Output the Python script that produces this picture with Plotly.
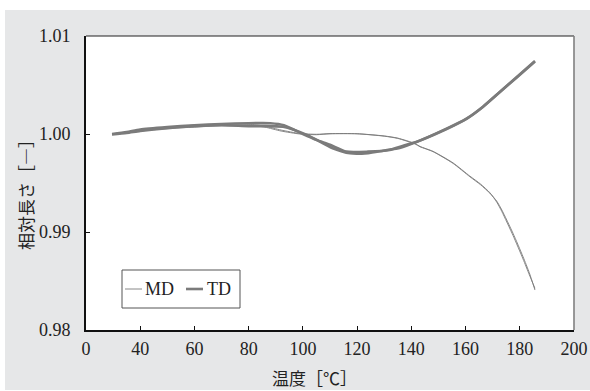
import plotly.graph_objects as go

# ---- data (temperature in °C, relative length) ----
series_names = ["MD", "TD"]

md_run1_T = [29.6, 35, 40, 50, 60, 70, 80, 86, 92, 98.9, 105, 110, 120, 130, 135, 141.4, 143.2, 148, 155.4, 161.6, 165.5, 169, 171.5, 173.4, 177.5, 181.2, 183.5, 185.6]
md_run1_v = [1.0000, 1.0001, 1.0003, 1.00055, 1.0007, 1.00085, 1.0009, 1.0007, 1.0003, 1.0000, 0.99993, 1.00002, 1.00002, 0.99978, 0.99955, 0.99898, 0.9987, 0.9982, 0.9970, 0.99564, 0.99483, 0.99395, 0.99315, 0.99224, 0.98987, 0.98748, 0.98585, 0.98408]

md_run2_T = [29.6, 35, 40, 50, 60, 70, 80, 86, 92, 98.9, 105, 110, 120, 130, 135, 141.4, 143.2, 148, 155.4, 161.6, 165.5, 169, 171.5, 173.4, 177.5, 181.2, 183.5, 185.6]
md_run2_v = [1.0000, 1.0002, 1.0004, 1.0007, 1.0009, 1.0010, 1.0010, 1.0008, 1.0004, 1.00005, 0.99997, 1.00004, 1.00003, 0.9998, 0.99958, 0.99902, 0.99873, 0.99823, 0.99705, 0.9957, 0.9949, 0.9940, 0.99305, 0.99208, 0.98965, 0.98725, 0.98565, 0.98425]

td_run1_T = [29.6, 35, 40, 50, 60, 70, 80, 88, 93, 100, 105, 110, 116, 124, 132, 137, 142, 150.6, 160.5, 166.4, 172.7, 179, 185.6]
td_run1_v = [1.0000, 1.0002, 1.00045, 1.0007, 1.0009, 1.00102, 1.0011, 1.0011, 1.0009, 1.0000, 0.9994, 0.9989, 0.9982, 0.9982, 0.99837, 0.9988, 0.9992, 1.00024, 1.0016, 1.00279, 1.00432, 1.00585, 1.00745]

td_run2_T = [29.6, 35, 40, 50, 60, 70, 80, 92.7, 101.5, 111, 117.4, 124, 129.6, 136, 142, 150.6, 160.5, 166.4, 172.7, 179, 185.6]
td_run2_v = [0.99995, 1.0001, 1.0003, 1.0006, 1.0008, 1.0009, 1.0008, 1.00074, 0.9999, 0.99854, 0.99803, 0.99805, 0.9983, 0.9986, 0.9992, 1.0002, 1.00158, 1.00276, 1.00428, 1.0058, 1.0074]

x_tickvals = [20, 40, 60, 80, 100, 120, 140, 160, 180, 200]
x_ticktext = ["0", "40", "60", "80", "100", "120", "140", "160", "180", "200"]
y_tickvals = [0.98, 0.99, 1.00, 1.01]

x_title = "温度［℃］"
y_title = "相対長さ［―］"

# ---- styling ----
line_color = "#7b7b7b"
md_width = 0.9
td_width = 2.6
serif = "Liberation Serif, Times New Roman, serif"
cjk = "Noto Sans CJK JP"

fig = go.Figure()
for T, v in [(md_run1_T, md_run1_v), (md_run2_T, md_run2_v)]:
    fig.add_trace(go.Scatter(x=T, y=v, mode="lines", name="MD", showlegend=False,
                             line=dict(color=line_color, width=md_width, shape="spline", smoothing=0.6)))
for T, v in [(td_run1_T, td_run1_v), (td_run2_T, td_run2_v)]:
    fig.add_trace(go.Scatter(x=T, y=v, mode="lines", name="TD", showlegend=False,
                             line=dict(color=line_color, width=td_width, shape="spline", smoothing=0.6)))

W, H = 590, 391
L, R, T_, B = 86, 574, 36, 330
pw, ph = R - L, B - T_

def px(x):
    return (x - L) / pw

def py(y):
    return (B - y) / ph

shapes = [
    dict(type="rect", xref="paper", yref="paper", x0=px(5), x1=px(591), y0=py(390), y1=py(10),
         fillcolor="#e6e7e8", line=dict(width=0), layer="below"),
    dict(type="rect", xref="paper", yref="paper", x0=0, x1=1, y0=0, y1=1,
         fillcolor="white", line=dict(width=0), layer="below"),
    dict(type="line", xref="paper", yref="paper", x0=0, x1=1, y0=1, y1=1,
         line=dict(color="#222222", width=1.2)),
    dict(type="line", xref="paper", yref="paper", x0=1, x1=1, y0=0, y1=1,
         line=dict(color="#808080", width=1.6)),
    dict(type="rect", xref="paper", yref="paper", x0=px(122), x1=px(240), y0=py(308), y1=py(270),
         fillcolor="white", line=dict(color="#555555", width=1)),
    dict(type="line", xref="paper", yref="paper", x0=px(125), x1=px(142), y0=py(289), y1=py(289),
         line=dict(color=line_color, width=md_width)),
    dict(type="line", xref="paper", yref="paper", x0=px(186), x1=px(203), y0=py(289), y1=py(289),
         line=dict(color=line_color, width=td_width)),
]

annotations = [
    dict(text=series_names[0], xref="paper", yref="paper", x=px(143), y=py(289), xanchor="left",
         yanchor="middle", showarrow=False, font=dict(family=serif, size=18, color="#222")),
    dict(text=series_names[1], xref="paper", yref="paper", x=px(205), y=py(289), xanchor="left",
         yanchor="middle", showarrow=False, font=dict(family=serif, size=18, color="#222")),
    dict(text=x_title, xref="paper", yref="paper", x=px(314), y=py(377), xanchor="center",
         yanchor="middle", showarrow=False, font=dict(family=cjk, size=17, color="#222")),
    dict(text=y_title, xref="paper", yref="paper", x=px(25), y=py(191), xanchor="center",
         yanchor="middle", textangle=-90, showarrow=False, font=dict(family=cjk, size=17, color="#222")),
]

fig.update_layout(
    width=W, height=H,
    margin=dict(l=L, r=W - R, t=T_, b=H - B, pad=0, autoexpand=False),
    paper_bgcolor="white",
    plot_bgcolor="white",
    showlegend=False,
    shapes=shapes,
    annotations=annotations,
    xaxis=dict(range=[20, 200], tickvals=x_tickvals, ticktext=x_ticktext, automargin=False,
               showgrid=False, zeroline=False, showline=True, linecolor="#111", linewidth=2,
               ticks="inside", ticklen=4, tickwidth=1, tickcolor="#111",
               ticklabelstandoff=1,
               tickfont=dict(family=serif, size=18, color="#222")),
    yaxis=dict(range=[0.98, 1.01], tickvals=y_tickvals, tickformat=".2f", automargin=False,
               showgrid=False, zeroline=False, showline=True, linecolor="#111", linewidth=2,
               ticks="inside", ticklen=4, tickwidth=1, tickcolor="#111",
               ticklabelstandoff=10,
               tickfont=dict(family=serif, size=18, color="#222")),
)

fig.write_html("out.html", config={"displayModeBar": False},
               post_script="document.body.style.margin='0';document.body.style.overflow='hidden';")
